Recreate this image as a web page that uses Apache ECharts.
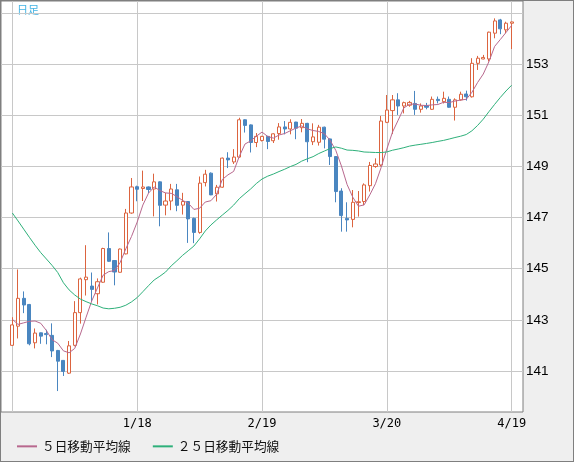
<!DOCTYPE html>
<html>
<head>
<meta charset="utf-8">
<script src="https://cdn.jsdelivr.net/npm/echarts@6/dist/echarts.min.js"></script>
<style>
html, body { margin: 0; padding: 0; background: #efefef; }
#chart { width: 574px; height: 462px; box-sizing: border-box; border: 1px solid #7f7f7f; background: #efefef; }
</style>
</head>
<body>
<div id="chart"></div>
<script>
// 日足 USD/JPY 12/18 - 4/19
const dates = ['12/18','12/19','12/20','12/21','12/22','12/25','12/26','12/27','12/28','12/29',
    '1/2','1/3','1/4','1/5','1/8','1/9','1/10','1/11','1/12','1/15',
    '1/16','1/17','1/18','1/19','1/22','1/23','1/24','1/25','1/26','1/29',
    '1/30','1/31','2/1','2/2','2/5','2/6','2/7','2/8','2/9','2/12',
    '2/13','2/14','2/15','2/16','2/19','2/20','2/21','2/22','2/23','2/26',
    '2/27','2/28','2/29','3/1','3/4','3/5','3/6','3/7','3/8','3/11',
    '3/12','3/13','3/14','3/15','3/18','3/19','3/20','3/21','3/22','3/25',
    '3/26','3/27','3/28','3/29','4/1','4/2','4/3','4/4','4/5','4/8',
    '4/9','4/10','4/11','4/12','4/15','4/16','4/17','4/18','4/19'];

const opens = [142.00,142.75,143.84,143.60,142.10,142.49,142.46,142.39,141.80,141.41,
    140.91,142.00,143.28,144.57,144.32,144.02,144.47,145.79,145.32,144.86,
    145.58,147.18,148.21,148.14,148.20,148.12,148.40,147.49,147.65,148.09,
    147.49,147.63,146.97,146.42,148.37,148.74,147.93,148.19,149.33,149.18,
    149.37,150.83,150.63,149.94,150.02,150.18,150.01,150.29,150.55,150.47,
    150.74,150.52,150.69,149.97,149.95,150.54,150.08,149.39,148.04,146.97,
    146.93,147.59,147.63,148.25,149.00,149.06,150.73,151.19,151.61,151.37,
    151.40,151.47,151.24,151.38,151.24,151.63,151.54,151.63,151.32,151.61,
    151.84,151.73,153.04,153.21,153.21,154.22,154.74,154.35,154.61];

const closes = [142.80,143.84,143.58,142.06,142.48,142.36,142.42,141.78,141.38,140.98,
    141.98,143.28,144.60,144.67,144.19,144.49,145.79,145.29,144.87,145.77,
    147.18,148.20,148.11,148.20,148.10,148.40,147.48,147.65,148.12,147.48,
    147.63,146.95,146.42,148.35,148.70,147.89,148.19,149.33,149.26,149.37,
    150.83,150.61,149.94,150.18,150.18,149.98,150.28,150.55,150.47,150.73,
    150.50,150.69,149.97,150.16,150.54,150.07,149.39,148.02,147.08,146.91,
    147.60,147.62,148.28,149.04,149.10,150.78,151.21,151.61,151.37,151.50,
    151.51,151.24,151.37,151.32,151.63,151.58,151.67,151.32,151.61,151.83,
    151.73,153.04,153.24,153.27,154.26,154.70,154.39,154.61,154.66];

const lows = [141.98,142.27,143.26,142.00,141.88,142.06,142.04,141.54,140.21,140.80,
    140.88,141.96,142.85,143.95,143.70,143.60,144.45,145.27,144.35,144.85,
    145.56,147.15,147.64,147.65,147.96,147.05,146.66,147.09,147.29,147.25,
    147.12,146.01,146.00,146.37,148.22,147.88,147.63,148.17,148.94,149.10,
    149.35,150.33,149.55,149.76,149.98,149.68,149.92,150.05,150.26,150.26,
    150.07,150.34,149.17,149.84,149.82,149.71,149.06,147.60,146.45,146.45,
    146.62,147.04,147.49,148.02,148.95,149.00,150.70,150.27,151.02,151.08,
    151.34,151.02,151.11,151.24,151.22,151.47,151.47,151.30,150.80,151.58,
    151.58,151.70,152.78,153.20,153.11,154.02,154.18,154.22,153.60];

const highs = [143.10,144.97,144.11,143.62,142.66,142.50,142.61,142.86,141.82,141.42,
    142.17,143.73,144.65,145.92,144.85,144.62,145.82,146.42,145.33,145.79,
    147.34,148.55,148.25,148.84,148.22,148.72,148.42,147.97,148.32,148.32,
    147.97,147.65,147.00,148.61,148.87,148.77,148.28,149.35,149.56,149.68,
    150.91,150.85,150.65,150.31,150.20,150.20,150.30,150.70,150.78,150.85,
    150.75,150.86,150.71,150.69,150.63,150.56,150.10,149.40,148.15,147.60,
    148.08,148.04,148.34,149.18,149.32,150.98,151.80,151.80,151.87,151.54,
    151.57,151.96,151.47,151.49,151.74,151.74,151.93,151.74,151.67,151.93,
    151.97,153.24,153.33,153.37,154.28,154.80,154.78,154.67,154.67];

// moving average values for days whose window starts before the first candle
const ma5Head = [143.02, 142.82, 142.88, 142.94];
const ma25Head = [147.18,146.87,146.55,146.23,145.92,145.63,145.38,145.13,144.85,144.45,
    144.17,143.97,143.81,143.71,143.62,143.55,143.46,143.43,143.45,143.49,
    143.57,143.70,143.87,144.10];

const yTicks = [141, 143, 145, 147, 149, 151, 153, 155];
const yLabels = [141, 143, 145, 147, 149, 151, 153];
const gridDates = ['12/18', '1/18', '2/19', '3/20', '4/19'];
const labelDates = ['1/18', '2/19', '3/20', '4/19'];

const legendNames = ['５日移動平均線', '２５日移動平均線'];

function movingAvg(n, head) {
    return closes.map(function (c, i) {
        if (i < n - 1) return head[i];
        let s = 0;
        for (let k = i - n + 1; k <= i; k++) s += closes[k];
        return +(s / n).toFixed(3);
    });
}

// two empty slots each side so the first/last candles sit off the frame
function pad(arr) {
    return ['-', '-'].concat(arr, ['-', '-']);
}

const categories = [' ', '  '].concat(dates, ['   ', '    ']);
const candles = dates.map(function (d, i) {
    return [opens[i], closes[i], lows[i], highs[i]];
});

const chart = echarts.init(document.getElementById('chart'));

chart.setOption({
    animation: false,
    grid: {
        left: 0, top: 0, width: 522, height: 411,
        show: true, backgroundColor: '#fff', borderColor: '#7f7f7f', borderWidth: 1,
        outerBoundsMode: 'none'
    },
    graphic: [{
        type: 'text', left: 16, top: 3,
        style: {text: '日足', fill: '#44b4e4', font: '11px "Noto Sans CJK JP"'}
    }],
    legend: {
        data: legendNames,
        left: 10, top: 434,
        itemWidth: 20, itemHeight: 12, itemGap: 21,
        itemStyle: {opacity: 0},
        textStyle: {fontFamily: 'Noto Sans CJK JP', fontSize: 12.7, color: '#111'}
    },
    xAxis: {
        type: 'category',
        data: categories,
        boundaryGap: false,
        axisLine: {show: false},
        axisTick: {show: false},
        axisLabel: {
            interval: function (i, v) { return labelDates.indexOf(v) >= 0; },
            margin: 6, color: '#000', fontFamily: 'DejaVu Sans Mono', fontSize: 12
        },
        splitLine: {
            show: true,
            interval: function (i, v) { return gridDates.indexOf(v) >= 0; },
            lineStyle: {color: '#c8c8c8', width: 1}
        }
    },
    yAxis: {
        type: 'value',
        position: 'right',
        min: 139.39, max: 155.48,
        axisLine: {show: false},
        axisTick: {show: false, customValues: yTicks},
        axisLabel: {
            customValues: yLabels,
            margin: 3, color: '#000', fontFamily: 'Liberation Sans', fontSize: 13.5
        },
        splitLine: {show: true, lineStyle: {color: '#c8c8c8', width: 1}}
    },
    series: [{
        type: 'candlestick',
        data: pad(candles),
        barWidth: 3.6,
        silent: true,
        itemStyle: {
            color: '#ffffff', color0: '#4a86c0',
            borderColor: '#dc643f', borderColor0: '#4a86c0', borderWidth: 1
        }
    }, {
        name: legendNames[0],
        type: 'line',
        data: pad(movingAvg(5, ma5Head)),
        symbol: 'none',
        silent: true,
        lineStyle: {color: '#b8688e', width: 1},
        itemStyle: {color: '#b8688e'}
    }, {
        name: legendNames[1],
        type: 'line',
        data: pad(movingAvg(25, ma25Head)),
        symbol: 'none',
        silent: true,
        lineStyle: {color: '#2eb07a', width: 1},
        itemStyle: {color: '#2eb07a'}
    }]
});
</script>
</body>
</html>
